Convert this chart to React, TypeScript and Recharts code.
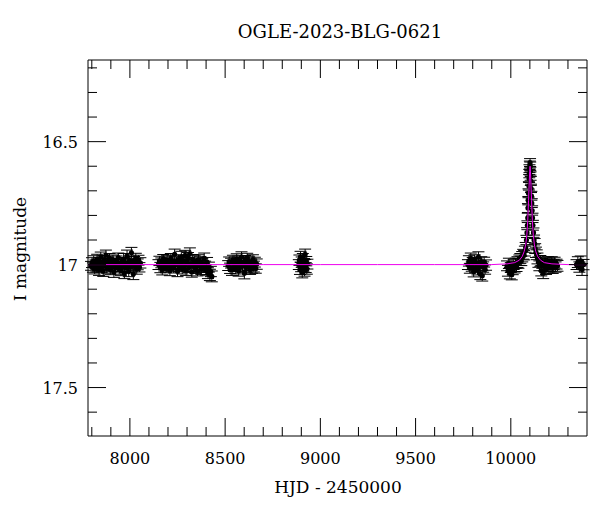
import React from "react";
import { ComposedChart, Scatter, Line, XAxis, YAxis, ErrorBar, ReferenceArea } from "recharts";

// [HJD-2450000, I mag, error]
const season2017 = [
	[7796, 17.005, 0.018], [7801, 16.992, 0.02], [7806, 17.012, 0.019], [7810, 16.985, 0.021],
	[7815, 17.018, 0.02], [7819, 16.998, 0.017], [7824, 17.008, 0.022], [7828, 16.978, 0.02],
	[7833, 17.002, 0.019], [7838, 17.021, 0.023], [7842, 16.99, 0.018], [7847, 16.97, 0.021],
	[7851, 17.011, 0.02], [7856, 16.995, 0.019], [7860, 17.026, 0.022], [7865, 16.983, 0.02],
	[7870, 17.004, 0.018], [7874, 16.962, 0.021], [7879, 17.015, 0.02], [7884, 16.988, 0.019],
	[7888, 17.0, 0.022], [7893, 16.975, 0.02], [7897, 17.02, 0.021], [7902, 16.993, 0.018],
	[7907, 17.009, 0.02], [7911, 16.98, 0.019], [7916, 17.03, 0.022], [7920, 16.997, 0.02],
	[7925, 17.012, 0.018], [7930, 16.986, 0.021], [7934, 17.006, 0.02], [7939, 16.972, 0.019],
	[7944, 17.017, 0.022], [7948, 16.999, 0.02], [7953, 17.024, 0.021], [7957, 16.989, 0.018],
	[7962, 17.008, 0.02], [7967, 16.978, 0.023], [7971, 17.035, 0.022], [7976, 16.994, 0.02],
	[7980, 17.013, 0.019], [7985, 16.965, 0.024], [7990, 17.002, 0.02], [7994, 17.028, 0.021],
	[7999, 16.984, 0.019], [8004, 17.01, 0.02], [8008, 16.952, 0.022], [8013, 16.996, 0.018],
	[8018, 17.038, 0.023], [8022, 16.987, 0.02], [8027, 17.006, 0.019], [8031, 16.975, 0.021],
	[8036, 17.019, 0.02], [8041, 16.999, 0.022], [8045, 16.982, 0.02], [8050, 17.011, 0.019],
	[8055, 16.993, 0.021],
];

const season2018 = [
	[8150, 17.0, 0.02], [8155, 16.985, 0.019], [8160, 17.012, 0.021], [8165, 16.993, 0.02],
	[8170, 17.02, 0.022], [8175, 16.978, 0.019], [8180, 17.006, 0.02], [8185, 16.99, 0.021],
	[8190, 17.015, 0.018], [8195, 16.982, 0.02], [8200, 17.003, 0.022], [8205, 16.996, 0.019],
	[8210, 17.024, 0.021], [8215, 16.975, 0.02], [8220, 17.008, 0.019], [8225, 16.987, 0.022],
	[8230, 17.014, 0.02], [8235, 16.958, 0.021], [8240, 17.001, 0.019], [8245, 16.989, 0.02],
	[8250, 17.027, 0.022], [8255, 16.98, 0.02], [8260, 17.01, 0.019], [8265, 16.995, 0.021],
	[8270, 16.968, 0.022], [8275, 17.018, 0.02], [8280, 16.985, 0.019], [8285, 17.005, 0.021],
	[8290, 16.962, 0.02], [8295, 17.022, 0.022], [8300, 16.99, 0.019], [8305, 16.972, 0.021],
	[8310, 17.012, 0.02], [8315, 16.955, 0.023], [8320, 16.998, 0.02], [8325, 17.03, 0.021],
	[8330, 16.978, 0.019], [8335, 17.008, 0.02], [8340, 16.986, 0.022], [8345, 17.016, 0.02],
	[8350, 16.992, 0.019], [8355, 17.025, 0.021], [8360, 16.98, 0.02], [8365, 17.004, 0.022],
	[8370, 16.988, 0.02], [8375, 17.019, 0.021], [8380, 16.995, 0.019], [8385, 17.012, 0.02],
	[8390, 16.975, 0.022], [8395, 17.006, 0.02], [8400, 17.022, 0.021], [8405, 16.99, 0.019],
	[8410, 17.035, 0.022], [8415, 17.01, 0.02], [8420, 17.042, 0.023], [8425, 17.028, 0.021],
	[8430, 17.048, 0.022],
];

const season2019 = [
	[8516, 17.004, 0.02], [8521, 16.988, 0.019], [8526, 17.015, 0.021], [8531, 16.994, 0.02],
	[8536, 17.022, 0.022], [8541, 16.981, 0.019], [8546, 17.008, 0.02], [8551, 16.99, 0.021],
	[8556, 17.018, 0.02], [8561, 16.978, 0.022], [8566, 17.002, 0.019], [8571, 17.026, 0.021],
	[8576, 16.985, 0.02], [8581, 17.01, 0.019], [8586, 16.97, 0.022], [8591, 17.006, 0.02],
	[8596, 16.992, 0.021], [8601, 17.035, 0.023], [8606, 16.983, 0.02], [8611, 17.012, 0.019],
	[8616, 16.975, 0.021], [8621, 17.004, 0.02], [8626, 16.988, 0.022], [8631, 17.02, 0.02],
	[8636, 16.996, 0.019], [8641, 17.014, 0.021], [8646, 16.98, 0.02], [8651, 17.008, 0.022],
	[8656, 16.99, 0.02], [8661, 17.016, 0.019], [8666, 16.998, 0.021],
];

const season2020 = [
	[8887, 17.0, 0.02], [8890, 16.982, 0.021], [8893, 17.02, 0.02], [8896, 16.968, 0.022],
	[8899, 17.01, 0.019], [8902, 16.99, 0.021], [8905, 17.032, 0.022], [8908, 16.975, 0.02],
	[8911, 17.006, 0.021], [8914, 16.995, 0.02], [8917, 17.025, 0.022], [8920, 16.958, 0.021],
	[8923, 17.012, 0.02], [8926, 16.986, 0.019], [8929, 17.018, 0.021], [8932, 16.998, 0.02],
];

const season2022 = [
	[9775, 17.0, 0.02], [9780, 16.985, 0.021], [9785, 17.015, 0.02], [9790, 16.975, 0.022],
	[9795, 17.008, 0.019], [9800, 16.992, 0.021], [9805, 17.028, 0.022], [9810, 16.98, 0.02],
	[9815, 17.012, 0.021], [9820, 16.995, 0.019], [9825, 17.022, 0.02], [9830, 16.97, 0.022],
	[9835, 17.005, 0.021], [9840, 17.038, 0.023], [9845, 16.988, 0.02], [9850, 17.045, 0.022],
	[9855, 17.01, 0.021], [9860, 16.99, 0.02], [9865, 17.02, 0.019], [9870, 17.002, 0.021],
];

const season2023 = [
	[9980, 17.005, 0.02], [9985, 17.025, 0.022], [9990, 16.995, 0.021], [9995, 17.035, 0.023],
	[10000, 17.012, 0.02], [10005, 17.04, 0.022], [10010, 17.02, 0.021], [10015, 17.0, 0.02],
	[10020, 17.015, 0.019], [10025, 16.995, 0.021], [10030, 17.008, 0.02], [10035, 16.99, 0.022],
	[10040, 16.995, 0.02], [10045, 16.982, 0.021], [10050, 16.975, 0.02], [10055, 16.985, 0.019],
	[10060, 16.968, 0.021], [10065, 16.958, 0.02], [10070, 16.962, 0.019], [10074, 16.945, 0.02],
	[10078, 16.93, 0.02], [10082, 16.9, 0.019], [10085, 16.87, 0.02], [10087, 16.84, 0.018],
	[10089, 16.81, 0.019], [10090, 16.77, 0.018], [10092, 16.74, 0.017], [10093, 16.71, 0.018],
	[10095, 16.68, 0.017], [10096, 16.65, 0.016], [10097, 16.63, 0.017], [10098, 16.61, 0.016],
	[10100, 16.595, 0.016], [10101, 16.585, 0.016], [10102, 16.6, 0.017], [10103, 16.62, 0.016],
	[10104, 16.64, 0.017], [10105, 16.66, 0.018], [10106, 16.69, 0.017], [10108, 16.72, 0.018],
	[10110, 16.75, 0.018], [10112, 16.78, 0.019], [10114, 16.81, 0.019], [10116, 16.84, 0.02],
	[10119, 16.87, 0.019], [10122, 16.9, 0.02], [10125, 16.915, 0.021], [10128, 16.935, 0.02],
	[10132, 16.95, 0.021], [10136, 16.96, 0.02], [10140, 16.975, 0.022], [10145, 16.99, 0.021],
	[10150, 17.005, 0.02], [10155, 16.985, 0.022], [10160, 17.025, 0.021], [10165, 16.995, 0.02],
	[10170, 17.035, 0.022], [10175, 17.005, 0.021], [10180, 16.99, 0.02], [10185, 17.018, 0.022],
	[10190, 17.0, 0.021], [10195, 16.988, 0.02], [10200, 17.012, 0.022], [10205, 16.995, 0.021],
	[10210, 17.008, 0.02], [10215, 16.99, 0.022], [10220, 17.015, 0.021], [10225, 17.0, 0.02],
	[10230, 16.992, 0.022], [10235, 17.01, 0.021], [10240, 16.998, 0.02], [10245, 17.005, 0.022],
];

const season2024 = [
	[10345, 17.0, 0.02], [10352, 16.99, 0.022], [10360, 17.01, 0.021], [10367, 16.985, 0.02],
	[10374, 17.02, 0.024], [10382, 17.0, 0.021],
];

// model light curve
const modelTimes = [
	7780, 8100, 8400, 8700, 9000, 9300, 9600, 9900, 9980, 10020, 10045, 10060, 10070, 10078,
	10084, 10089, 10093, 10096, 10099, 10101, 10103, 10106, 10109, 10113, 10118, 10124, 10131,
	10141, 10156, 10176, 10216, 10300, 10400,
];
const modelMags = [
	17.0, 17.0, 17.0, 17.0, 17.0, 17.0, 17.0, 17.0, 16.997, 16.992, 16.982, 16.967, 16.947,
	16.92, 16.88, 16.82, 16.74, 16.68, 16.62, 16.6, 16.62, 16.68, 16.74, 16.82, 16.88, 16.92,
	16.947, 16.967, 16.982, 16.992, 16.997, 17.0, 17.0,
];

const xTicks = [
	7800, 7900, 8000, 8100, 8200, 8300, 8400, 8500, 8600, 8700, 8800, 8900, 9000, 9100,
	9200, 9300, 9400, 9500, 9600, 9700, 9800, 9900, 10000, 10100, 10200, 10300,
];
const xLabels = [8000, 8500, 9000, 9500, 10000];
const yTicks = [16.2, 16.3, 16.4, 16.5, 16.6, 16.7, 16.8, 16.9, 17, 17.1, 17.2, 17.3, 17.4, 17.5, 17.6];
const yLabels = [16.5, 17, 17.5];

const FONT = "DejaVu Serif";
const TOP = 52;
const BOTTOM = 428;
const LEFT = 80;
const RIGHT = 579;

const obs = [
	...season2017, ...season2018, ...season2019, ...season2020,
	...season2022, ...season2023, ...season2024,
].map(([t, mag, err]) => ({ t, mag, err }));

const model = modelTimes.map((t, i) => ({ t, mag: modelMags[i] }));

const XTick = ({ x, payload }: any) => {
	const major = xLabels.includes(payload.value);
	const len = major ? 18 : 9;
	return (
		<g>
			<line x1={x} x2={x} y1={BOTTOM} y2={BOTTOM - len} stroke="#000" />
			<line x1={x} x2={x} y1={TOP} y2={TOP + len} stroke="#000" />
			{major && (
				<text x={x} y={456} textAnchor="middle" fontFamily={FONT} fontSize={16} fill="#000">
					{payload.value}
				</text>
			)}
		</g>
	);
};

const YTick = ({ y, payload }: any) => {
	const major = yLabels.includes(payload.value);
	const len = major ? 18 : 9;
	return (
		<g>
			<line x1={LEFT} x2={LEFT + len} y1={y} y2={y} stroke="#000" />
			<line x1={RIGHT} x2={RIGHT - len} y1={y} y2={y} stroke="#000" />
			{major && (
				<text x={70} y={y + 6} textAnchor="end" fontFamily={FONT} fontSize={16} fill="#000">
					{payload.value}
				</text>
			)}
		</g>
	);
};

const Dot = (p: any) => <circle cx={p.cx} cy={p.cy} r={2.6} fill="#000" />;

export default function App() {
	return (
		<ComposedChart width={584} height={496} margin={{ top: TOP, right: 5, bottom: 28, left: 0 }}>
			<text x={332} y={30} textAnchor="middle" fontFamily={FONT} fontSize={18} fill="#000">
				OGLE-2023-BLG-0621
			</text>
			<text x={330} y={485} textAnchor="middle" fontFamily={FONT} fontSize={17} fill="#000">
				HJD - 2450000
			</text>
			<text
				x={18}
				y={241}
				textAnchor="middle"
				transform="rotate(-90 18 241)"
				fontFamily={FONT}
				fontSize={17}
				fill="#000">
				I magnitude
			</text>
			<XAxis
				type="number"
				dataKey="t"
				domain={[7780, 10400]}
				allowDataOverflow
				ticks={xTicks}
				interval={0}
				tick={<XTick />}
				tickLine={false}
				axisLine={false}
				height={40}
			/>
			<YAxis
				type="number"
				dataKey="mag"
				domain={[16.168, 17.697]}
				reversed
				allowDataOverflow
				ticks={yTicks}
				interval={0}
				tick={<YTick />}
				tickLine={false}
				axisLine={false}
				width={80}
			/>
			<ReferenceArea
				x1={7780}
				x2={10400}
				y1={16.168}
				y2={17.697}
				fill="none"
				stroke="#000"
				strokeWidth={1}
				ifOverflow="visible"
			/>
			<Scatter data={obs} dataKey="mag" shape={Dot} isAnimationActive={false}>
				<ErrorBar dataKey="err" direction="y" width={6} stroke="#000" strokeWidth={1} />
			</Scatter>
			<Line
				data={model}
				dataKey="mag"
				type="linear"
				stroke="#ee00ee"
				strokeWidth={1}
				dot={false}
				activeDot={false}
				isAnimationActive={false}
				zIndex={900}
			/>
		</ComposedChart>
	);
}
